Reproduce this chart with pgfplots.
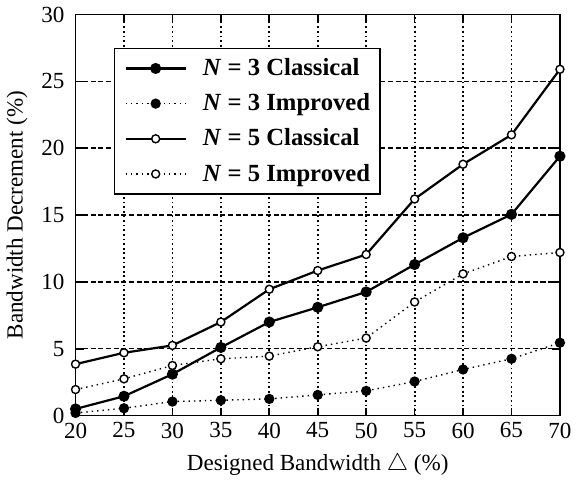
\documentclass[border=0pt]{standalone}
\usepackage{fontspec}
\setmainfont{Liberation Serif}
\usepackage{pgfplots}
\pgfplotsset{compat=1.18}

\begin{document}
\begin{tikzpicture}
\begin{axis}[
  width=241.5pt, height=200pt, scale only axis,
  xmin=20, xmax=70, ymin=0, ymax=30,
  xtick={20,25,...,70}, ytick={0,5,...,30},
  /pgf/number format/assume math mode=true,
  tick label style={font=\fontsize{11.5}{13}\selectfont},
  yticklabel style={xshift=-2pt},
  label style={font=\fontsize{11.5}{13}\selectfont},
  xlabel style={yshift=-1pt},
  tick align=inside, major tick length=4pt,
  grid=major,
  x grid style={black, line width=0.9pt, dash pattern=on 0.9pt off 1.4pt},
  y grid style={black, line width=0.7pt, dash pattern=on 2.5pt off 1.3pt},
  axis line style={line width=0.8pt},
  tick style={black, line width=0.8pt},
  xlabel={Designed Bandwidth $\triangle$ (\%)},
  ylabel={Bandwidth Decrement (\%)},
  clip=false,
  legend cell align=left,
  legend style={at={(0.0787,0.9175)}, anchor=north west, draw=black,
    line width=0.8pt, font=\fontsize{12.3}{14}\selectfont\bfseries,
    inner xsep=3pt, inner ysep=3pt, row sep=3.5pt},
  legend image code/.code={\path (-2pt,0pt) (36pt,0pt);
    \draw[mark repeat=2,mark phase=2,#1]
    plot coordinates {(0pt,0pt) (15pt,0pt) (30pt,0pt)};},
]
\addplot[black, line width=1.1pt, mark=*, mark size=2.2pt] coordinates {
(20,0.5) (25,1.45) (30,3.1) (35,5.1) (40,7.0) (45,8.1) (50,9.25) (55,11.3) (60,13.3) (65,15.05) (70,19.4)};
\addlegendentry{\textit{N} = 3 Classical}
\addplot[black, line width=0.7pt, dotted, mark=*, mark size=2.2pt, mark options={solid}] coordinates {
(20,0.2) (25,0.55) (30,1.05) (35,1.15) (40,1.25) (45,1.55) (50,1.85) (55,2.55) (60,3.45) (65,4.25) (70,5.45)};
\addlegendentry{\textit{N} = 3 Improved}
\addplot[black, line width=1.1pt, mark=*, mark size=2pt, mark options={fill=white, line width=0.7pt}] coordinates {
(20,3.85) (25,4.7) (30,5.25) (35,7.0) (40,9.45) (45,10.85) (50,12.05) (55,16.2) (60,18.8) (65,21.0) (70,25.9)};
\addlegendentry{\textit{N} = 5 Classical}
\addplot[black, line width=0.7pt, dotted, mark=*, mark size=2pt, mark options={solid, fill=white}] coordinates {
(20,1.95) (25,2.75) (30,3.75) (35,4.25) (40,4.45) (45,5.15) (50,5.8) (55,8.5) (60,10.6) (65,11.9) (70,12.2)};
\addlegendentry{\textit{N} = 5 Improved}
\path (rel axis cs:1,0) ++(11pt,0pt);
\end{axis}
\end{tikzpicture}
\end{document}
